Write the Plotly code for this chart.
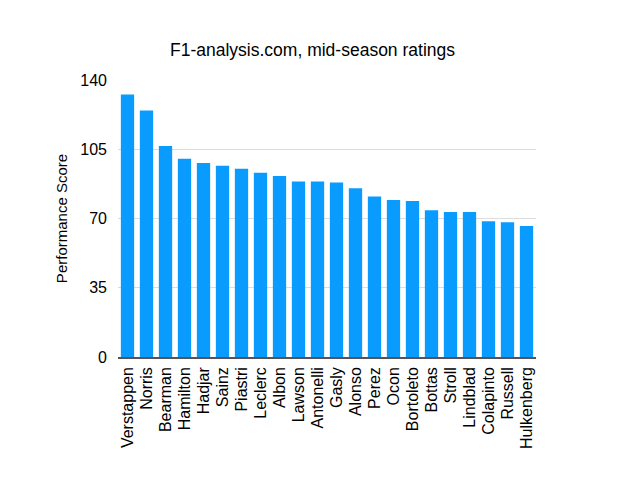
import plotly.graph_objects as go

drivers = ["Verstappen", "Norris", "Bearman", "Hamilton", "Hadjar", "Sainz", "Piastri",
           "Leclerc", "Albon", "Lawson", "Antonelli", "Gasly", "Alonso", "Perez", "Ocon",
           "Bortoleto", "Bottas", "Stroll", "Lindblad", "Colapinto", "Russell", "Hulkenberg"]
scores = [132.7, 124.6, 106.6, 100.2, 98.1, 96.6, 95.2, 93.1, 91.5, 88.7, 88.7, 88.2,
          85.3, 81.1, 79.4, 78.9, 74.2, 73.3, 73.3, 68.6, 68.1, 66.2]
y_ticks = [0, 35, 70, 105, 140]

fig = go.Figure(go.Bar(x=drivers, y=scores, marker=dict(color="#0A9BFF", line=dict(width=0))))

fig.update_layout(
    width=625, height=489,
    paper_bgcolor="white", plot_bgcolor="white",
    margin=dict(l=118, r=89, t=80, b=132),
    bargap=0.3,
    font=dict(family="Liberation Sans, Arial, sans-serif", color="black", size=14),
    title=dict(text="F1-analysis.com, mid-season ratings", x=0.5, xanchor="center",
               y=1 - 50 / 489, yanchor="middle", font=dict(size=17.5)),
    showlegend=False,
)
fig.update_xaxes(tickangle=-90, showline=True, linecolor="#555555", linewidth=1.5,
                 ticks="", showgrid=False, tickfont=dict(size=16), ticklabelstandoff=2)
fig.update_yaxes(range=[0, 140], tickvals=y_ticks, showgrid=True, gridcolor="#DDDDDD",
                 zeroline=False, showline=False, ticks="", tickfont=dict(size=16),
                 ticklabelstandoff=10,
                 title=dict(text="Performance Score", font=dict(size=15), standoff=9))

fig.write_html("out.html")
